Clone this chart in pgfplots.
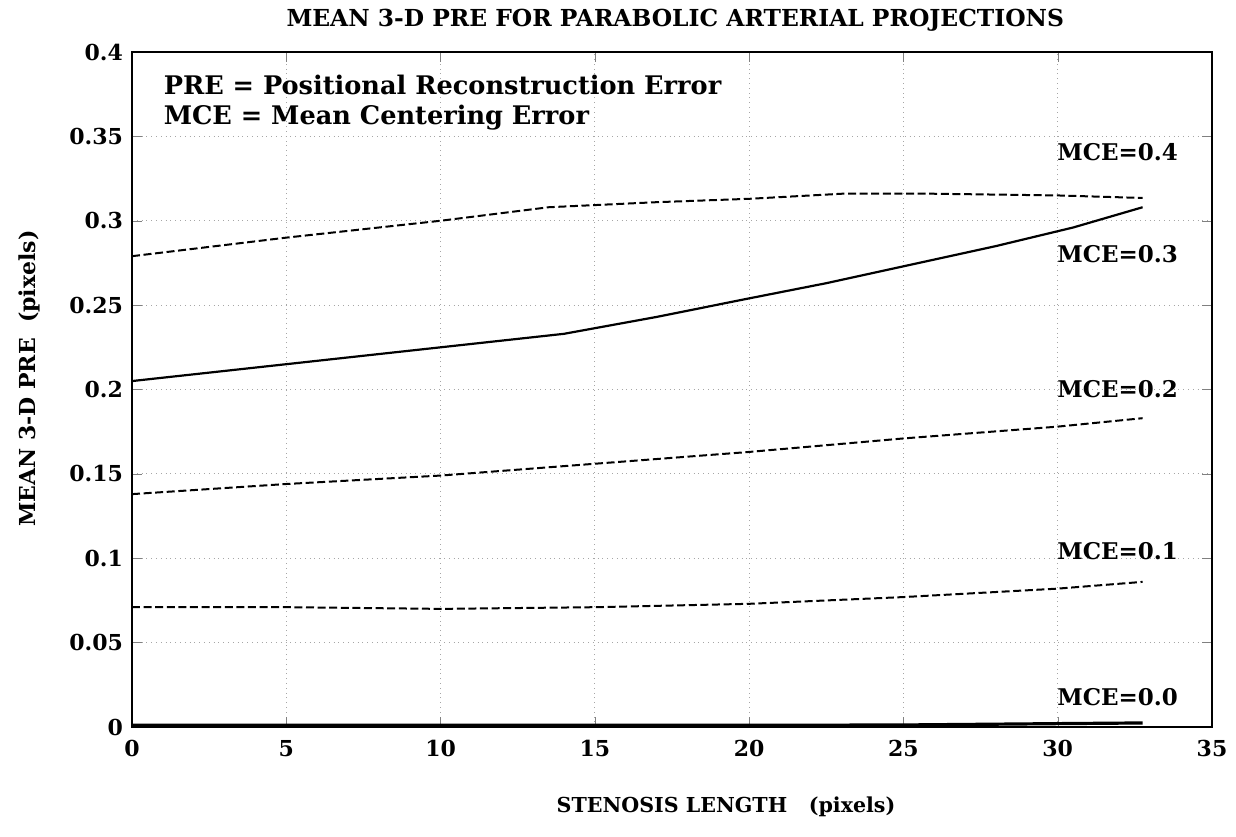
\documentclass[border=0pt]{standalone}
\usepackage{fontspec}
\setmainfont{DejaVu Serif}
\usepackage{pgfplots}
\pgfplotsset{compat=1.18}
\begin{document}
\begin{tikzpicture}
\begin{axis}[
  name=ax,
  scale only axis,
  width=540pt, height=337.5pt,
  xmin=0, xmax=35, ymin=0, ymax=0.4,
  xtick={0,5,...,35},
  ytick={0,0.05,...,0.4},
  yticklabels={0,0.05,0.1,0.15,0.2,0.25,0.3,0.35,0.4},
  /pgf/number format/assume math mode=true,
  ticklabel style={font=\fontsize{11}{13}\selectfont\bfseries},
  tick align=inside,
  major tick length=5pt,
  axis line style={line width=1.1pt},
  grid=major,
  grid style={dotted, gray!70, line width=0.4pt},
  clip=false,
  xticklabel style={yshift=-3pt},
  yticklabel style={xshift=-1pt},
]
\addplot[black, line width=1pt, dash pattern=on 4pt off 1.8pt] coordinates {
(0,0.279) (5,0.290) (10,0.300) (13.5,0.308) (17,0.311) (20,0.313) (23,0.316) (26,0.316) (30,0.315) (32.75,0.3135)};
\addplot[black, line width=1.1pt] coordinates {
(0,0.205) (5,0.215) (10,0.225) (14,0.233) (17,0.243) (20,0.254) (22.5,0.263) (25,0.273) (28,0.285) (30.5,0.296) (32.75,0.308)};
\addplot[black, line width=1pt, dash pattern=on 4pt off 1.8pt] coordinates {
(0,0.138) (5,0.144) (10,0.149) (15,0.156) (20,0.163) (25,0.171) (30,0.178) (32.75,0.183)};
\addplot[black, line width=1pt, dash pattern=on 4pt off 1.8pt] coordinates {
(0,0.071) (5,0.071) (10,0.070) (15,0.071) (20,0.073) (25,0.077) (30,0.082) (32.75,0.086)};
\addplot[black, line width=1.6pt] coordinates {
(0,0.001) (10,0.001) (20,0.001) (25,0.0012) (30,0.002) (32.75,0.0024)};
\node[anchor=west, font=\fontsize{12.8}{14}\selectfont\bfseries] at (axis cs:0.8,0.3805) {PRE = Positional Reconstruction Error};
\node[anchor=west, font=\fontsize{12.8}{14}\selectfont\bfseries] at (axis cs:0.8,0.361) {MCE = Mean Centering Error};
\node[font=\fontsize{11.5}{13}\selectfont\bfseries] at (axis cs:31.94,0.3407) {MCE=0.4};
\node[font=\fontsize{11.5}{13}\selectfont\bfseries] at (axis cs:31.94,0.280) {MCE=0.3};
\node[font=\fontsize{11.5}{13}\selectfont\bfseries] at (axis cs:31.94,0.200) {MCE=0.2};
\node[font=\fontsize{11.5}{13}\selectfont\bfseries] at (axis cs:31.94,0.104) {MCE=0.1};
\node[font=\fontsize{11.5}{13}\selectfont\bfseries] at (axis cs:31.94,0.0178) {MCE=0.0};
\node[font=\fontsize{11.7}{13}\selectfont\bfseries] at (rel axis cs:0.503,1.047) {MEAN 3-D PRE FOR PARABOLIC ARTERIAL PROJECTIONS};
\node[font=\fontsize{10.3}{12}\selectfont\bfseries] at (rel axis cs:0.55,-0.1185) {STENOSIS LENGTH\ \ \ (pixels)};
\node[font=\fontsize{11}{13}\selectfont\bfseries, rotate=90] at (rel axis cs:-0.095,0.516) {MEAN 3-D PRE\ \ (pixels)};
\end{axis}
\path ([xshift=-66pt,yshift=-54.5pt]ax.south west) rectangle ([xshift=12pt,yshift=26pt]ax.north east);
\end{tikzpicture}
\end{document}
